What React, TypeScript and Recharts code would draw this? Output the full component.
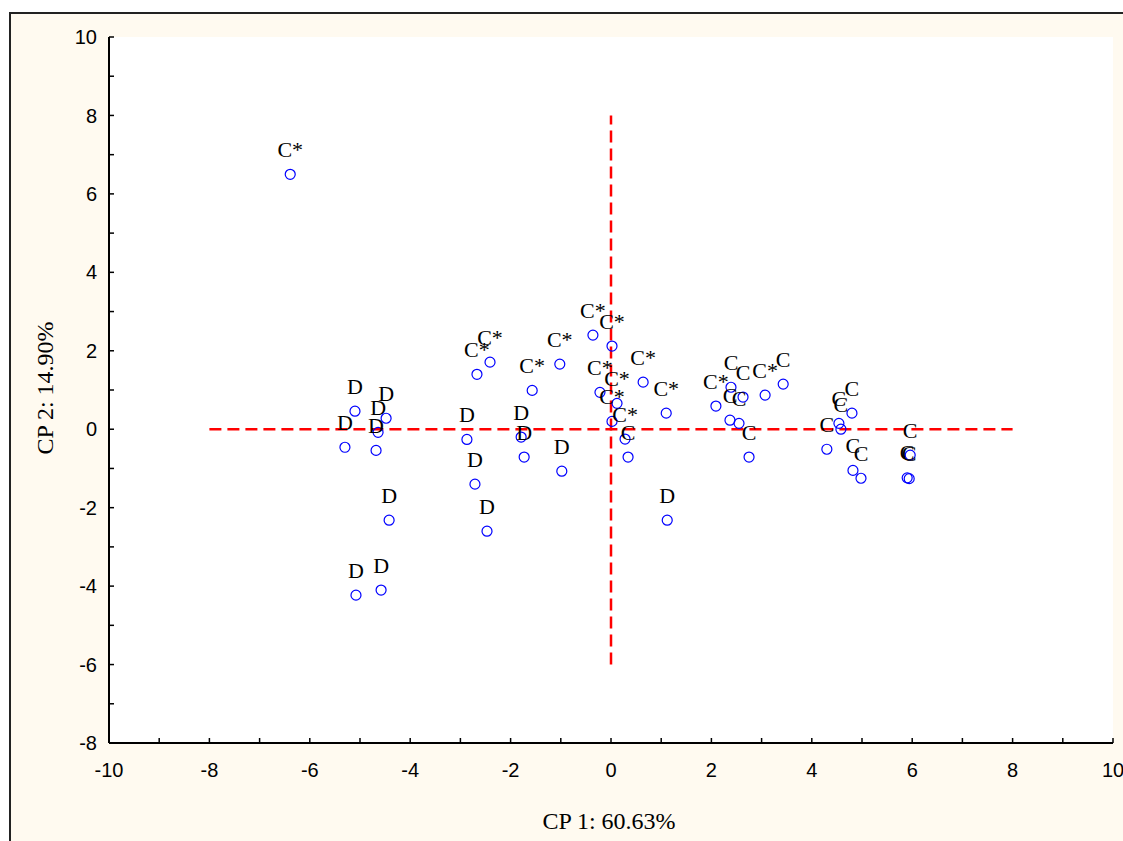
import { ScatterChart, Scatter, XAxis, YAxis, CartesianGrid, ReferenceLine, LabelList } from "recharts";

// axis ticks: every integer gets a tick, only even ones get a label
const X_TICKS = [-10, -9, -8, -7, -6, -5, -4, -3, -2, -1, 0, 1, 2, 3, 4, 5, 6, 7, 8, 9, 10];
const Y_TICKS = [-8, -7, -6, -5, -4, -3, -2, -1, 0, 1, 2, 3, 4, 5, 6, 7, 8, 9, 10];

// group D
const D_X = [-5.1, -5.3, -4.48, -4.64, -4.68, -4.42, -5.08, -4.58, -2.87, -1.79, -1.73, -0.98, -2.71, -2.47, 1.12];
const D_Y = [0.46, -0.46, 0.28, -0.08, -0.54, -2.32, -4.23, -4.1, -0.26, -0.2, -0.71, -1.07, -1.4, -2.6, -2.32];

// group C*
const CS_X = [-6.39, -2.41, -2.67, -1.57, -1.02, -0.36, 0.02, 0.64, 1.1, -0.22, 0.12, 0.02, 0.28, 2.09, 3.07];
const CS_Y = [6.5, 1.71, 1.4, 0.99, 1.66, 2.4, 2.12, 1.2, 0.41, 0.94, 0.66, 0.2, -0.25, 0.59, 0.87];

// group C
const C_X = [0.34, 2.39, 2.63, 3.43, 2.37, 2.55, 2.75, 4.8, 4.54, 4.58, 4.3, 4.82, 4.98, 5.96, 5.9, 5.94];
const C_Y = [-0.71, 1.07, 0.82, 1.15, 0.23, 0.15, -0.71, 0.41, 0.15, 0.0, -0.51, -1.05, -1.25, -0.66, -1.24, -1.26];

const toPoints = (xs: number[], ys: number[], label: string) => xs.map((x, i) => ({ x, y: ys[i], label }));

const dData = toPoints(D_X, D_Y, "D");
const csData = toPoints(CS_X, CS_Y, "C*");
const cData = toPoints(C_X, C_Y, "C");

const sans = "'Liberation Sans', Arial, sans-serif";
const serif = "'Liberation Serif', 'Times New Roman', serif";

const evenOnly = (v: number) => (v % 2 === 0 ? String(v) : "");

const Dot = (p: any) => <circle cx={p.cx} cy={p.cy} r={5} fill="none" stroke="#0000ff" strokeWidth={1.2} />;

export default function App() {
  const axisLine = { stroke: "#000", strokeWidth: 2 };
  const tickLine = { stroke: "#000", strokeWidth: 1.5 };
  const tickStyle = { fontFamily: sans, fontSize: 20, fill: "#000" };
  const labelStyle = { fontFamily: serif, fontSize: 22, fill: "#000" };

  return (
    <div style={{ position: "absolute", left: 0, top: 0, width: 1123, height: 841, background: "#fff", overflow: "hidden" }}>
      <div
        style={{
          position: "absolute",
          left: 9,
          top: 12,
          width: 1200,
          height: 900,
          background: "#FFFAF0",
          borderLeft: "2px solid #222",
          borderTop: "2px solid #222",
        }}
      />
      <div style={{ position: "absolute", left: 0, top: 0 }}>
        <ScatterChart width={1123} height={841} margin={{ top: 37, right: 10, bottom: 68, left: 49 }}>
          <CartesianGrid fill="#fff" horizontal={false} vertical={false} xAxisId="b" yAxisId="l" />
          <XAxis
            xAxisId="b"
            type="number"
            dataKey="x"
            domain={[-10, 10]}
            ticks={X_TICKS}
            tickFormatter={evenOnly}
            interval={0}
            height={30}
            tickSize={-5}
            tickMargin={25}
            axisLine={axisLine}
            tickLine={tickLine}
            tick={tickStyle}
            allowDataOverflow
          />
          <XAxis
            xAxisId="t"
            orientation="top"
            type="number"
            domain={[-10, 10]}
            ticks={X_TICKS}
            tickFormatter={() => ""}
            interval={0}
            height={0}
            tickSize={-5}
            axisLine={axisLine}
            tickLine={tickLine}
            allowDataOverflow
          />
          <YAxis
            yAxisId="l"
            type="number"
            dataKey="y"
            domain={[-8, 10]}
            ticks={Y_TICKS}
            tickFormatter={evenOnly}
            interval={0}
            width={60}
            tickSize={-5}
            tickMargin={17}
            axisLine={axisLine}
            tickLine={tickLine}
            tick={tickStyle}
            allowDataOverflow
          />
          <YAxis
            yAxisId="r"
            orientation="right"
            type="number"
            domain={[-8, 10]}
            ticks={Y_TICKS}
            tickFormatter={() => ""}
            interval={0}
            width={0}
            tickSize={-5}
            axisLine={axisLine}
            tickLine={tickLine}
            allowDataOverflow
          />
          {[dData, csData, cData].map((data, i) => (
            <Scatter key={i} xAxisId="b" yAxisId="l" data={data} shape={Dot} isAnimationActive={false}>
              <LabelList dataKey="label" position="top" offset={13} style={labelStyle} />
            </Scatter>
          ))}
          <ReferenceLine
            xAxisId="b"
            yAxisId="l"
            segment={[{ x: -8, y: 0 }, { x: 8, y: 0 }]}
            stroke="#ff0000"
            strokeWidth={2.5}
            strokeDasharray="12 6"
          />
          <ReferenceLine
            xAxisId="b"
            yAxisId="l"
            segment={[{ x: 0, y: -6 }, { x: 0, y: 8 }]}
            stroke="#ff0000"
            strokeWidth={2.5}
            strokeDasharray="12 6"
          />
        </ScatterChart>
      </div>
      <svg width={1123} height={841} style={{ position: "absolute", left: 0, top: 0, pointerEvents: "none" }}>
        <text x={609} y={829} textAnchor="middle" fontFamily={serif} fontSize={24} fill="#000">
          CP 1: 60.63%
        </text>
        <text transform="translate(53,388) rotate(-90)" textAnchor="middle" fontFamily={serif} fontSize={24} fill="#000">
          CP 2: 14.90%
        </text>
      </svg>
    </div>
  );
}
